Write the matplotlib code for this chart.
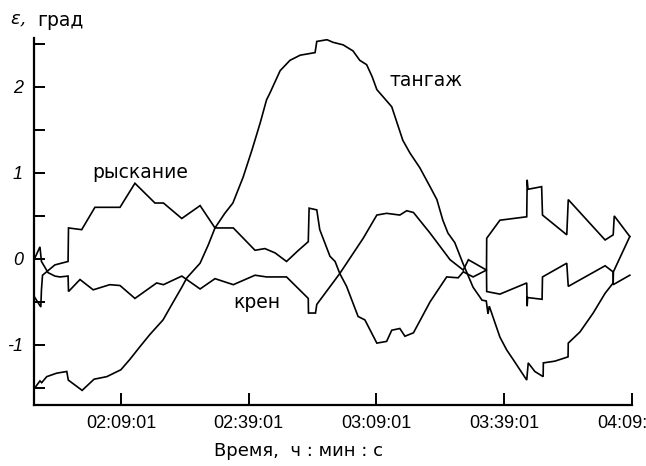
import matplotlib
matplotlib.use("Agg")
import matplotlib.pyplot as plt
from matplotlib.ticker import FixedLocator, FuncFormatter

# time in minutes after midnight, angle in degrees
t_pitch = [108.8, 110.0, 110.4, 111.6, 113.9, 116.3, 116.65, 119.9, 122.7, 125.7,
           129.0, 131.1, 133.5, 135.8, 138.9, 141.2, 143.3, 144.5, 147.6, 149.5,
           151.1, 153.4, 155.3, 157.7, 159.8, 161.7, 163.2, 164.0, 166.4, 168.7,
           171.1, 174.6, 175.0, 177.4, 178.8, 181.2, 183.5, 185.1, 186.7, 188.0,
           189.1, 192.6, 193.8, 195.2, 196.9, 199.2, 201.6, 203.2, 204.6, 205.8,
           207.4, 209.3, 211.7, 213.8, 214.8, 215.2, 215.5, 218.0, 219.6, 221.1,
           224.3, 224.65, 226.2, 228.15, 228.2, 230.9, 234.0, 234.05, 236.8, 239.9,
           242.7, 244.6, 244.65, 248.5]
y_pitch = [-1.50, -1.42, -1.44, -1.37, -1.33, -1.31, -1.41, -1.53, -1.40, -1.37,
           -1.29, -1.17, -1.02, -0.88, -0.71, -0.51, -0.33, -0.22, -0.05, 0.16,
           0.36, 0.53, 0.65, 0.95, 1.27, 1.58, 1.85, 1.93, 2.19, 2.31,
           2.37, 2.40, 2.53, 2.55, 2.52, 2.49, 2.42, 2.31, 2.26, 2.12,
           1.97, 1.77, 1.59, 1.38, 1.23, 1.06, 0.84, 0.69, 0.45, 0.30,
           0.19, -0.05, -0.33, -0.48, -0.49, -0.64, -0.55, -0.91, -1.06, -1.17,
           -1.41, -1.21, -1.31, -1.37, -1.21, -1.19, -1.14, -0.98, -0.85, -0.63,
           -0.40, -0.28, -0.15, 0.26]

t_yaw = [108.8, 110.2, 110.35, 110.6, 113.5, 116.6, 116.7, 119.8, 122.9, 128.8,
         132.3, 137.0, 139.0, 143.3, 147.6, 151.1, 155.4, 160.5, 162.8, 165.2,
         167.9, 170.7, 173.0, 173.2, 175.0, 175.7, 178.1, 179.3, 180.4, 182.0,
         184.7, 186.3, 189.1, 191.4, 192.6, 194.5, 195.7, 197.7, 201.6, 205.5,
         208.2, 209.4, 211.7, 214.85, 214.9, 218.0, 224.3, 224.4, 224.6, 227.8,
         228.0, 233.7, 234.05, 242.7, 244.6, 244.85, 248.5]
y_yaw = [-0.45, -0.56, -0.36, -0.19, -0.07, -0.03, 0.36, 0.34, 0.60, 0.60,
         0.88, 0.65, 0.65, 0.47, 0.62, 0.36, 0.36, 0.10, 0.12, 0.07,
         -0.03, 0.10, 0.20, 0.59, 0.57, 0.34, 0.03, -0.03, -0.17, -0.32,
         -0.67, -0.71, -0.98, -0.96, -0.83, -0.81, -0.90, -0.86, -0.50, -0.21,
         -0.22, -0.15, -0.21, -0.13, 0.24, 0.45, 0.49, 0.92, 0.81, 0.84,
         0.51, 0.28, 0.69, 0.22, 0.28, 0.50, 0.26]

t_roll = [108.8, 110.0, 110.35, 111.9, 113.5, 114.7, 116.6, 116.7, 119.4, 122.5,
          126.4, 128.8, 132.3, 137.4, 139.0, 143.3, 147.6, 151.1, 155.4, 160.5,
          163.2, 167.9, 173.0, 173.05, 174.7, 175.0, 180.4, 185.9, 189.1, 191.4,
          194.5, 196.1, 197.7, 201.6, 206.3, 209.4, 210.6, 214.85, 214.9, 218.0,
          224.3, 224.4, 224.5, 227.9, 228.0, 233.7, 234.05, 242.7, 244.55, 244.6,
          248.5]
y_roll = [0.01, 0.14, -0.03, -0.16, -0.20, -0.21, -0.20, -0.38, -0.24, -0.36,
          -0.30, -0.31, -0.46, -0.28, -0.30, -0.20, -0.35, -0.23, -0.30, -0.19,
          -0.21, -0.21, -0.46, -0.63, -0.63, -0.53, -0.17, 0.24, 0.51, 0.53,
          0.51, 0.56, 0.54, 0.30, -0.01, -0.13, -0.01, -0.13, -0.38, -0.41,
          -0.28, -0.55, -0.45, -0.47, -0.21, -0.05, -0.32, -0.08, -0.15, -0.30,
          -0.19]

x_ticks = [129 + 1 / 60 + 30 * k for k in range(5)]
y_ticks = [-1.5, -1.0, -0.5, 0.0, 0.5, 1.0, 1.5, 2.0, 2.5]


def hms(v, pos=None):
    s = int(round(v * 60))
    return "%02d:%02d:%02d" % (s // 3600, s // 60 % 60, s % 60)


def ylab(v, pos=None):
    if abs(v - round(v)) > 1e-6:
        return ""
    return "%d" % round(v)


plt.rcParams["font.family"] = ["Liberation Sans", "DejaVu Sans"]
cyr = "DejaVu Sans"

fig = plt.figure(figsize=(6.46, 4.66), dpi=100)
ax = fig.add_axes([34 / 646, 61 / 466, 598 / 646, 367 / 466])

for t, y in [(t_pitch, y_pitch), (t_yaw, y_yaw), (t_roll, y_roll)]:
    ax.plot(t, y, color="black", lw=1.2, solid_joinstyle="miter")

ax.set_xlim(108.6, x_ticks[-1])
ax.set_ylim(-1.70, 2.57)
ax.spines["top"].set_visible(False)
ax.spines["right"].set_visible(False)
ax.spines["left"].set_linewidth(1.6)
ax.spines["bottom"].set_linewidth(1.6)

ax.xaxis.set_major_locator(FixedLocator(x_ticks))
ax.xaxis.set_major_formatter(FuncFormatter(hms))
ax.yaxis.set_major_locator(FixedLocator(y_ticks))
ax.yaxis.set_major_formatter(FuncFormatter(ylab))
ax.tick_params(axis="x", direction="in", length=9, width=1.4, pad=7, labelsize=13)
ax.tick_params(axis="y", direction="in", length=8, width=1.4, pad=8, labelsize=13)
for lab in ax.get_yticklabels():
    lab.set_style("italic")

ax.text(133.5, 1.01, "рыскание", fontsize=13.5, family=cyr, ha="center", va="center")
ax.text(161.0, -0.51, "крен", fontsize=13.5, family=cyr, ha="center", va="center")
ax.text(200.6, 2.07, "тангаж", fontsize=13.5, family=cyr, ha="center", va="center")

fig.text(10 / 646, 1 - 20 / 466, r"$\varepsilon$,", fontsize=13, ha="left", va="center",
         family="DejaVu Serif", style="italic")
fig.text(37 / 646, 1 - 20 / 466, "град", fontsize=13.5, family=cyr, ha="left", va="center")
fig.text(299 / 646, 1 - 451 / 466, "Время,  ч : мин : с", fontsize=13, family=cyr,
         ha="center", va="center")

fig.savefig("out.png", dpi=100)
